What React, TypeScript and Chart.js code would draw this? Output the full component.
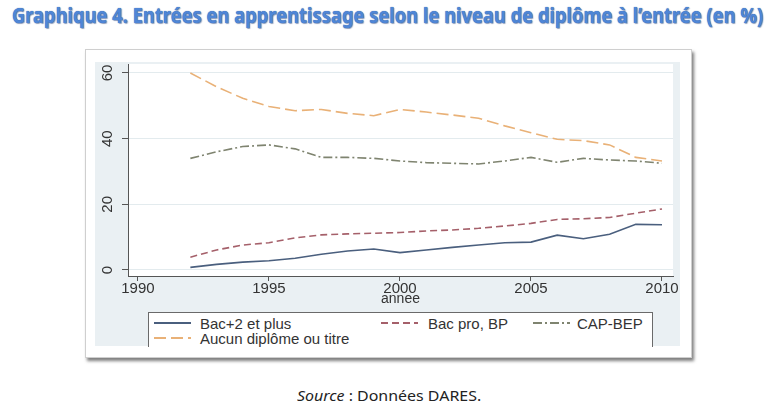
import { useEffect, useLayoutEffect, useRef, useState } from 'react';
import { Chart, registerables } from 'chart.js';

Chart.register(...registerables);

// Data (share of apprenticeship entries, %)
const years = [1992, 1993, 1994, 1995, 1996, 1997, 1998, 1999, 2000, 2001, 2002, 2003, 2004, 2005, 2006, 2007, 2008, 2009, 2010];
const bacPlus2 = [0.8, 1.7, 2.4, 2.8, 3.6, 4.8, 5.8, 6.4, 5.3, 6.1, 6.9, 7.6, 8.3, 8.5, 10.6, 9.5, 10.9, 13.9, 13.8];
const bacPro = [3.9, 6.1, 7.6, 8.3, 9.8, 10.7, 11.0, 11.2, 11.4, 11.9, 12.2, 12.7, 13.4, 14.2, 15.4, 15.6, 16.0, 17.3, 18.6];
const capBep = [34.0, 36.0, 37.6, 38.1, 36.9, 34.3, 34.3, 34.0, 33.2, 32.7, 32.5, 32.3, 33.2, 34.3, 32.8, 34.0, 33.5, 33.2, 32.5];
const aucun = [60.0, 55.8, 52.3, 49.8, 48.5, 48.9, 47.7, 47.0, 48.9, 48.1, 47.2, 46.2, 43.9, 41.8, 39.8, 39.4, 38.1, 34.3, 33.2];

const seriesLabels = ['Bac+2 et plus', 'Bac pro, BP', 'CAP-BEP', 'Aucun diplôme ou titre'];
const seriesValues = [bacPlus2, bacPro, capBep, aucun];
const seriesColors = ['#4a5f7e', '#a5606a', '#7f8470', '#e9b177'];
const seriesDashes = [[], [7, 4], [9, 3, 2, 3], [12, 5]];

const xTicks = [1990, 1995, 2000, 2005, 2010];
const yTicks = [0, 20, 40, 60];

const FONT = '"Liberation Sans", Arial, sans-serif';

function FitText({ width, style, children }: { width: number; style: React.CSSProperties; children: React.ReactNode }) {
  const ref = useRef<HTMLSpanElement>(null);
  const [k, setK] = useState(1);
  useLayoutEffect(() => {
    if (ref.current) setK(width / ref.current.offsetWidth);
  }, [width]);
  return (
    <span
      ref={ref}
      style={{ display: 'inline-block', whiteSpace: 'nowrap', transform: `scaleX(${k})`, transformOrigin: 'left center', ...style }}
    >
      {children}
    </span>
  );
}

// legend slots (layout only): [keyLeft, textLeft, top]
const legendSlots = [
  [5, 51, 3],
  [232, 279, 3],
  [384, 428, 3],
  [5, 51, 18],
];

export default function App() {
  const canvasRef = useRef<HTMLCanvasElement>(null);
  const chartRef = useRef<Chart | null>(null);

  useEffect(() => {
    if (!canvasRef.current) return;
    const ctx = canvasRef.current.getContext('2d');
    if (!ctx) return;

    const plotBg = {
      id: 'plotBg',
      beforeDraw(chart: Chart) {
        const { ctx, chartArea } = chart;
        ctx.save();
        ctx.fillStyle = '#ffffff';
        ctx.fillRect(chartArea.left, chartArea.top, chartArea.right - chartArea.left, chartArea.bottom - chartArea.top);
        ctx.restore();
      },
    };

    chartRef.current = new Chart(ctx, {
      type: 'line',
      data: {
        datasets: seriesLabels.map((label, i) => ({
          label,
          data: years.map((yr, j) => ({ x: yr, y: seriesValues[i][j] })),
          borderColor: seriesColors[i],
          borderDash: seriesDashes[i],
          borderWidth: 1.6,
          pointRadius: 0,
          tension: 0,
          fill: false,
        })),
      },
      options: {
        animation: false,
        responsive: true,
        maintainAspectRatio: false,
        layout: { padding: { left: 0, right: 7, top: 2, bottom: 40 } },
        plugins: {
          legend: { display: false },
          tooltip: { enabled: false },
        },
        scales: {
          x: {
            type: 'linear',
            min: 1989.62,
            max: 2010.42,
            afterBuildTicks: (s: any) => {
              s.ticks = xTicks.map(v => ({ value: v }));
            },
            afterFit: (s: any) => {
              s.height = 30;
              s.paddingLeft = 0;
              s.paddingRight = 0;
            },
            grid: { drawOnChartArea: false, drawTicks: true, tickLength: 5, tickColor: '#555' },
            border: { display: true, color: '#555', width: 1 },
            ticks: {
              padding: 0,
              color: '#333',
              maxRotation: 0,
              autoSkip: false,
              font: { family: FONT, size: 15, lineHeight: 1 },
              callback: (v: any) => String(v),
            },
            title: {
              display: true,
              text: 'annee',
              color: '#333',
              padding: 0,
              font: { family: FONT, size: 14, lineHeight: 1 },
            },
          },
          y: {
            min: -1.83,
            max: 62.74,
            afterBuildTicks: (s: any) => {
              s.ticks = yTicks.map(v => ({ value: v }));
            },
            afterFit: (s: any) => {
              s.width = 33;
              s.paddingTop = 0;
              s.paddingBottom = 0;
            },
            grid: { color: '#e3ebee', lineWidth: 1, tickLength: 6, tickColor: '#555' },
            border: { display: true, color: '#555', width: 1 },
            ticks: {
              minRotation: 90,
              maxRotation: 90,
              crossAlign: 'center',
              padding: 6,
              color: '#333',
              font: { family: FONT, size: 15, lineHeight: 1 },
            },
          },
        },
      },
      plugins: [plotBg],
    } as any);

    return () => {
      if (chartRef.current) {
        chartRef.current.destroy();
        chartRef.current = null;
      }
    };
  }, []);

  return (
    <div style={{ position: 'absolute', left: 0, top: 0, width: 775, height: 420, background: '#fff', overflow: 'hidden' }}>
      <div style={{ position: 'absolute', left: 12, top: 2, height: 24, lineHeight: '24px' }}>
        <FitText
          width={751}
          style={{
            fontFamily: '"Noto Sans", sans-serif',
            fontWeight: 700,
            fontSize: 22,
            color: '#4f86d6',
            textShadow: '0 0 1px #1e4b92, 1px 1px 1px rgba(30, 60, 120, 0.45)',
          }}
        >
          Graphique 4. Entrées en apprentissage selon le niveau de diplôme à l’entrée (en %)
        </FitText>
      </div>

      <div
        style={{
          position: 'absolute',
          left: 85,
          top: 49,
          width: 605,
          height: 307,
          background: '#fff',
          border: '1px solid #cfcfcf',
          boxShadow: '2px 3px 3px rgba(0,0,0,0.5)',
        }}
      />

      <div style={{ position: 'absolute', left: 95, top: 62, width: 585, height: 284, background: '#eaf0f3' }}>
        <canvas ref={canvasRef} />
      </div>

      <div
        style={{
          position: 'absolute',
          left: 148,
          top: 312,
          width: 503,
          height: 34,
          background: '#fff',
          borderTop: '1px solid #6a6a6a',
          borderLeft: '1px solid #6a6a6a',
          borderRight: '1px solid #6a6a6a',
          fontFamily: FONT,
          fontSize: 15,
          color: '#333',
        }}
      >
        {seriesLabels.map((label, i) => {
          const [keyLeft, textLeft, top] = legendSlots[i];
          return (
            <div key={label}>
              <svg style={{ position: 'absolute', left: keyLeft, top: top + 5 }} width={37} height={4}>
                <line
                  x1={0}
                  y1={2}
                  x2={37}
                  y2={2}
                  stroke={seriesColors[i]}
                  strokeWidth={2}
                  strokeDasharray={seriesDashes[i].length ? seriesDashes[i].join(' ') : undefined}
                />
              </svg>
              <span style={{ position: 'absolute', left: textLeft, top, lineHeight: '15px', whiteSpace: 'nowrap' }}>{label}</span>
            </div>
          );
        })}
      </div>

      <div style={{ position: 'absolute', left: 297, top: 385, height: 20, lineHeight: '20px' }}>
        <FitText width={184} style={{ fontFamily: '"Noto Sans", sans-serif', fontSize: 15, color: '#222' }}>
          <i>Source</i> : Données DARES.
        </FitText>
      </div>
    </div>
  );
}
